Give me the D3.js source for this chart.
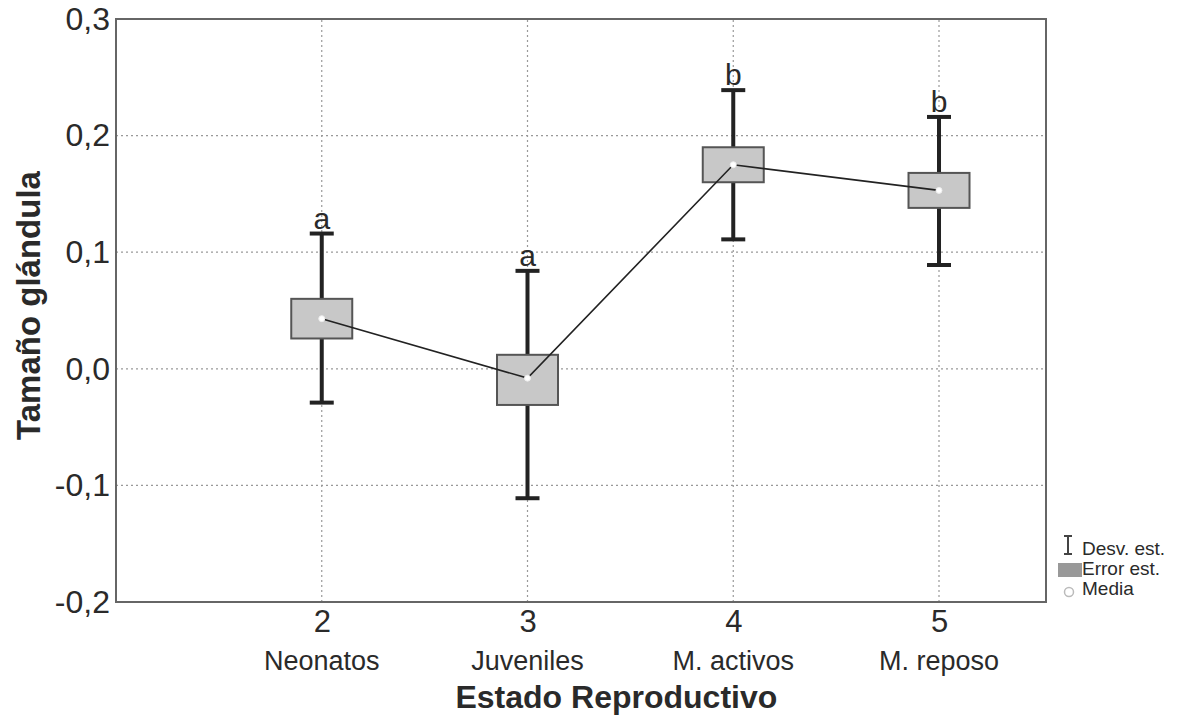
<!DOCTYPE html>
<html>
<head>
<meta charset="utf-8">
<script src="https://cdn.jsdelivr.net/npm/d3@7"></script>
<style>
  body { margin: 0; background: #fff; }
  svg text { font-family: "Liberation Sans", Arial, sans-serif; fill: #2a2a2a; }
</style>
</head>
<body>
<div id="chart"></div>
<script>
// data
const groups = [2, 3, 4, 5];
const groupNames = ["Neonatos", "Juveniles", "M. activos", "M. reposo"];
const means = [0.043, -0.008, 0.175, 0.153];
const seLow = [0.026, -0.031, 0.160, 0.138];
const seHigh = [0.060, 0.012, 0.190, 0.168];
const sdLow = [-0.029, -0.111, 0.111, 0.089];
const sdHigh = [0.116, 0.084, 0.239, 0.216];
const letters = ["a", "a", "b", "b"];
const yTicks = [-0.2, -0.1, 0, 0.1, 0.2, 0.3];

const width = 1197;
const height = 717;
const margin = { top: 19, bottom: 115, left: 116, right: 151 };

const svg = d3.select("#chart").append("svg")
  .attr("width", width).attr("height", height);

const x = d3.scaleLinear().domain([1, 5.52]).range([margin.left, width - margin.right]);
const y = d3.scaleLinear().domain([-0.2, 0.3]).range([height - margin.bottom, margin.top]);

const fmt = (d) => d3.format(".1f")(d).replace(".", ",").replace("−", "-");

// grid
svg.append("g")
  .selectAll("line")
  .data(yTicks.filter((d) => d > -0.2 && d < 0.3))
  .join("line")
  .attr("x1", x.range()[0]).attr("x2", x.range()[1])
  .attr("y1", (d) => y(d)).attr("y2", (d) => y(d))
  .attr("stroke", "#999").attr("stroke-width", 1.2).attr("stroke-dasharray", "2,3");

svg.append("g")
  .selectAll("line")
  .data(groups)
  .join("line")
  .attr("x1", (d) => x(d)).attr("x2", (d) => x(d))
  .attr("y1", y.range()[0]).attr("y2", y.range()[1])
  .attr("stroke", "#999").attr("stroke-width", 1.2).attr("stroke-dasharray", "2,3");

// frame
svg.append("rect")
  .attr("x", x.range()[0]).attr("y", y.range()[1])
  .attr("width", x.range()[1] - x.range()[0])
  .attr("height", y.range()[0] - y.range()[1])
  .attr("fill", "none").attr("stroke", "#666").attr("stroke-width", 2);

// y axis labels
const yAxis = d3.axisLeft(y).tickValues(yTicks).tickFormat(fmt).tickSize(0).tickPadding(6);
const gy = svg.append("g").attr("transform", `translate(${margin.left},0)`).call(yAxis);
gy.select(".domain").remove();
gy.selectAll("text").attr("font-size", 32).attr("fill", "#2a2a2a")
  .attr("font-family", "Liberation Sans, Arial, sans-serif");

// x axis labels
const xAxis = d3.axisBottom(x).tickValues(groups).tickFormat(d3.format("d")).tickSize(0).tickPadding(8);
const gx = svg.append("g").attr("transform", `translate(0,${height - margin.bottom})`).call(xAxis);
gx.select(".domain").remove();
gx.selectAll("text").attr("font-size", 31).attr("fill", "#2a2a2a")
  .attr("font-family", "Liberation Sans, Arial, sans-serif");

svg.append("g")
  .selectAll("text")
  .data(groupNames)
  .join("text")
  .attr("x", (d, i) => x(groups[i]))
  .attr("y", 670)
  .attr("text-anchor", "middle")
  .attr("font-size", 27)
  .text((d) => d);

// axis titles
svg.append("text")
  .attr("x", x(3.5) - 14).attr("y", 708)
  .attr("text-anchor", "middle")
  .attr("font-size", 32).attr("font-weight", "bold")
  .text("Estado Reproductivo");

svg.append("text")
  .attr("transform", `translate(40,${y(0.05) - 5}) rotate(-90)`)
  .attr("text-anchor", "middle")
  .attr("font-size", 33).attr("font-weight", "bold")
  .text("Tamaño glándula");

// whiskers (sd)
const idx = d3.range(groups.length);
const capW = 24;
const boxW = 61;

svg.append("g")
  .selectAll("line")
  .data(idx)
  .join("line")
  .attr("x1", (i) => x(groups[i])).attr("x2", (i) => x(groups[i]))
  .attr("y1", (i) => y(sdLow[i])).attr("y2", (i) => y(sdHigh[i]))
  .attr("stroke", "#222").attr("stroke-width", 4);

svg.append("g")
  .selectAll("line")
  .data(idx.flatMap((i) => [[i, sdLow[i]], [i, sdHigh[i]]]))
  .join("line")
  .attr("x1", (d) => x(groups[d[0]]) - capW / 2).attr("x2", (d) => x(groups[d[0]]) + capW / 2)
  .attr("y1", (d) => y(d[1])).attr("y2", (d) => y(d[1]))
  .attr("stroke", "#222").attr("stroke-width", 4);

// boxes (se)
svg.append("g")
  .selectAll("rect")
  .data(idx)
  .join("rect")
  .attr("x", (i) => x(groups[i]) - boxW / 2)
  .attr("y", (i) => y(seHigh[i]))
  .attr("width", boxW)
  .attr("height", (i) => y(seLow[i]) - y(seHigh[i]))
  .attr("fill", "#c8c8c8").attr("stroke", "#555").attr("stroke-width", 2);

// mean line
svg.append("path")
  .datum(idx)
  .attr("d", d3.line().x((i) => x(groups[i])).y((i) => y(means[i])))
  .attr("fill", "none").attr("stroke", "#222").attr("stroke-width", 1.6);

svg.append("g")
  .selectAll("circle")
  .data(idx)
  .join("circle")
  .attr("cx", (i) => x(groups[i])).attr("cy", (i) => y(means[i]))
  .attr("r", 3).attr("fill", "#fff").attr("stroke", "#eee").attr("stroke-width", 1);

// letters
svg.append("g")
  .selectAll("text")
  .data(idx)
  .join("text")
  .attr("x", (i) => x(groups[i]))
  .attr("y", (i) => y(sdHigh[i]) - 5)
  .attr("text-anchor", "middle")
  .attr("font-size", 30)
  .text((i) => letters[i]);

// legend
const lg = svg.append("g").attr("transform", "translate(1058,534)");
lg.append("line").attr("x1", 10).attr("x2", 10).attr("y1", 2).attr("y2", 20)
  .attr("stroke", "#444").attr("stroke-width", 2);
lg.append("line").attr("x1", 6).attr("x2", 14).attr("y1", 2).attr("y2", 2)
  .attr("stroke", "#444").attr("stroke-width", 2);
lg.append("line").attr("x1", 6).attr("x2", 14).attr("y1", 20).attr("y2", 20)
  .attr("stroke", "#444").attr("stroke-width", 2);
lg.append("rect").attr("x", 0).attr("y", 29).attr("width", 24).attr("height", 14)
  .attr("fill", "#999");
lg.append("circle").attr("cx", 11).attr("cy", 58).attr("r", 4.5)
  .attr("fill", "none").attr("stroke", "#bbb").attr("stroke-width", 1.5);
lg.selectAll("text.lbl")
  .data(["Desv. est.", "Error est.", "Media"])
  .join("text")
  .attr("class", "lbl")
  .attr("x", 24).attr("y", (d, i) => 21 + i * 20)
  .attr("font-size", 19)
  .text((d) => d);
</script>
</body>
</html>
